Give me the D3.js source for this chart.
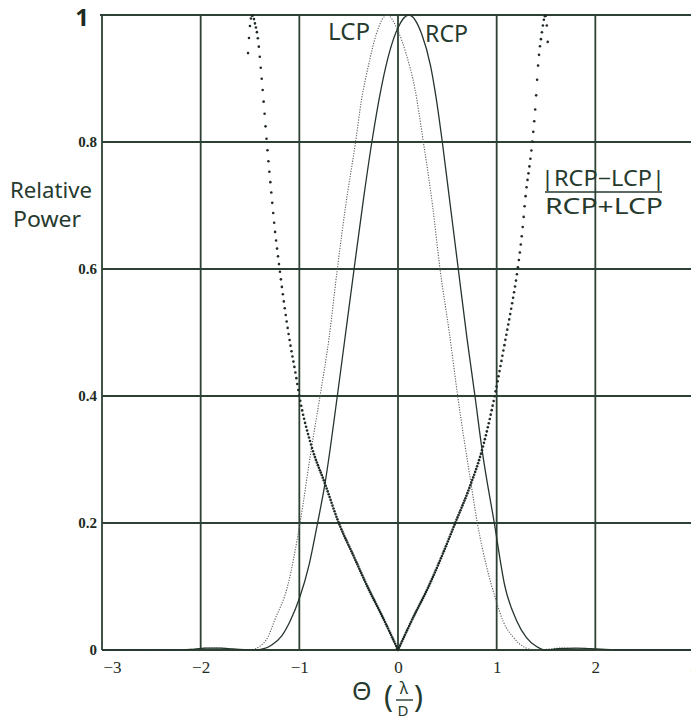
<!DOCTYPE html>
<html>
<head>
<meta charset="utf-8">
<script src="https://cdnjs.cloudflare.com/ajax/libs/d3/7.8.5/d3.min.js"></script>
<style>
body { margin: 0; background: #fff; }
svg { display: block; }
.hand { font-family: "Noto Sans", sans-serif; fill: #263a2e; }
.tick text { font-family: "Liberation Serif", serif; fill: #1e2a22; }
</style>
</head>
<body>
<svg id="chart" width="691" height="720"></svg>
<script>
var xTicks = [-3, -2, -1, 0, 1, 2, 3];
var yTicks = [0, 0.2, 0.4, 0.6, 0.8, 1];

// RCP beam (solid)
var rcpX = [-3, -2.3, -2.1, -1.95, -1.8, -1.62, -1.45, -1.36, -1.28, -1.18, -1.095, -1.0, -0.9, -0.815, -0.74, -0.615, -0.53, -0.445, -0.35, -0.265, -0.17, -0.08, 0.0, 0.11, 0.24, 0.33, 0.39, 0.449, 0.53, 0.611, 0.70, 0.78, 0.855, 0.976, 1.084, 1.2, 1.3, 1.4, 1.5, 1.62, 1.8, 1.95, 2.1, 2.3, 3];
var rcpY = [0, 0, 0.001, 0.003, 0.003, 0.001, 0, 0.002, 0.008, 0.022, 0.045, 0.081, 0.135, 0.2, 0.262, 0.4, 0.5, 0.6, 0.71, 0.8, 0.885, 0.945, 0.98, 1.0, 0.97, 0.92, 0.866, 0.8, 0.7, 0.6, 0.49, 0.4, 0.312, 0.2, 0.1, 0.047, 0.02, 0.006, 0, 0.002, 0.003, 0.002, 0.001, 0, 0];

// LCP beam (dotted)
var lcpX = [-3, -2.3, -2.1, -1.95, -1.8, -1.62, -1.5, -1.4, -1.32, -1.25, -1.12, -0.993, -0.875, -0.79, -0.70, -0.615, -0.53, -0.43, -0.37, -0.30, -0.22, -0.11, 0.0, 0.08, 0.17, 0.257, 0.35, 0.426, 0.52, 0.605, 0.74, 0.804, 0.9, 1.0, 1.066, 1.17, 1.3, 1.4, 1.5, 1.65, 1.8, 1.95, 2.1, 2.3, 3];
var lcpY = [0, 0, 0.001, 0.003, 0.003, 0.001, 0, 0.006, 0.02, 0.047, 0.1, 0.2, 0.32, 0.4, 0.49, 0.6, 0.7, 0.8, 0.866, 0.92, 0.97, 1.0, 0.975, 0.94, 0.885, 0.8, 0.7, 0.6, 0.5, 0.4, 0.262, 0.2, 0.13, 0.075, 0.045, 0.02, 0.003, 0, 0.001, 0.003, 0.002, 0.001, 0, 0, 0];

// |RCP-LCP| / (RCP+LCP), left and right of the null at 0
var ratioLeftX = [-1.52, -1.505, -1.49, -1.472, -1.455, -1.416, -1.39, -1.36, -1.33, -1.29, -1.25, -1.2, -1.145, -1.09, -1.04, -1.0, -0.875, -0.74, -0.6, -0.45, -0.31, -0.15, 0];
var ratioLeftY = [0.94, 0.975, 0.995, 1.0, 0.99, 0.958, 0.915, 0.86, 0.8, 0.73, 0.665, 0.6, 0.535, 0.48, 0.437, 0.4, 0.32, 0.262, 0.2, 0.148, 0.1, 0.05, 0];
var ratioRightX = [0, 0.15, 0.31, 0.45, 0.58, 0.72, 0.85, 0.98, 1.03, 1.09, 1.15, 1.213, 1.26, 1.3, 1.335, 1.361, 1.39, 1.422, 1.456, 1.484, 1.495, 1.505, 1.513, 1.523];
var ratioRightY = [0, 0.05, 0.1, 0.15, 0.2, 0.254, 0.314, 0.4, 0.44, 0.49, 0.54, 0.6, 0.66, 0.725, 0.765, 0.8, 0.85, 0.925, 0.97, 0.996, 1.0, 0.99, 0.97, 0.943];

var svg = d3.select("#chart");
var gridColor = "#2c4134";

var x = d3.scaleLinear().domain([-3, 3]).range([102, 694]);
var y = d3.scaleLinear().domain([0, 1]).range([650, 15]);

// grid + frame
svg.selectAll("line.vgrid").data(xTicks).enter().append("line")
	.attr("class", "vgrid")
	.attr("x1", function(d){ return x(d); }).attr("x2", function(d){ return x(d); })
	.attr("y1", y(1)).attr("y2", y(0))
	.attr("stroke", gridColor).attr("stroke-width", 1.8);
svg.selectAll("line.hgrid").data(yTicks).enter().append("line")
	.attr("class", "hgrid")
	.attr("x1", function(d){ return d == 1 ? 100 : x(-3); }).attr("x2", 691)
	.attr("y1", function(d){ return y(d); }).attr("y2", function(d){ return y(d); })
	.attr("stroke", gridColor).attr("stroke-width", function(d){ return d == 0 ? 2.2 : 1.8; });

// axes labels
var xAxis = d3.axisBottom(x).tickValues(xTicks).tickSize(0).tickPadding(11)
	.tickFormat(function(d){ return d < 0 ? "\u2212" + Math.abs(d) : d; });
var gx = svg.append("g").attr("transform", "translate(0," + y(0) + ")").call(xAxis);
gx.select(".domain").remove();
gx.selectAll("text").attr("font-size", 17)
	.attr("dx", function(d){ return d == -3 ? 10 : 0; });

var yAxis = d3.axisLeft(y).tickValues(yTicks).tickSize(0).tickPadding(5)
	.tickFormat(function(d){ return d == 0 || d == 1 ? d : d.toFixed(1); });
var gy = svg.append("g").attr("transform", "translate(" + x(-3) + ",0)").call(yAxis);
gy.select(".domain").remove();
gy.selectAll("text").attr("font-size", 15).attr("font-weight", "bold");
gy.selectAll(".tick").filter(function(d){ return d == 1; }).select("text")
	.attr("font-size", 24).attr("dx", -8).attr("dy", "0.45em")
	.style("font-family", "'Noto Sans', sans-serif");

// beams
var line = d3.line()
	.x(function(d){ return x(d[0]); })
	.y(function(d){ return y(d[1]); })
	.curve(d3.curveMonotoneX);

svg.append("path").datum(d3.zip(lcpX, lcpY))
	.attr("d", line).attr("fill", "none")
	.attr("stroke", "#5b5f5c").attr("stroke-width", 1.1)
	.attr("stroke-dasharray", "1.2,1.4");

svg.append("path").datum(d3.zip(rcpX, rcpY))
	.attr("d", line).attr("fill", "none")
	.attr("stroke", "#26352c").attr("stroke-width", 1.3);

// ratio as point markers, evenly spaced in theta
var dots = [];
[d3.zip(ratioLeftX, ratioLeftY), d3.zip(ratioRightX, ratioRightY)].forEach(function(half){
	var node = svg.append("path").datum(half)
		.attr("d", line).attr("fill", "none").attr("stroke", "none").node();
	var total = node.getTotalLength(), lastX = -Infinity;
	for (var l = 0; l <= total; l += 0.2) {
		var p = node.getPointAtLength(l);
		if (p.x - lastX >= 0.95) { dots.push(p); lastX = p.x; }
	}
});
svg.selectAll("circle.ratio").data(dots).enter().append("circle")
	.attr("class", "ratio")
	.attr("cx", function(d){ return d.x; })
	.attr("cy", function(d){ return d.y; })
	.attr("r", 1.3)
	.attr("fill", "#1f2b24");

// hand lettering
svg.append("text").attr("class", "hand").attr("x", 10).attr("y", 198)
	.attr("font-size", 22).attr("textLength", 82).attr("lengthAdjust", "spacingAndGlyphs")
	.text("Relative");
svg.append("text").attr("class", "hand").attr("x", 13).attr("y", 227)
	.attr("font-size", 22).attr("textLength", 68).attr("lengthAdjust", "spacingAndGlyphs")
	.text("Power");

svg.append("text").attr("class", "hand").attr("x", 328).attr("y", 40)
	.attr("font-size", 23).attr("textLength", 42).attr("lengthAdjust", "spacingAndGlyphs")
	.text("LCP");
svg.append("text").attr("class", "hand").attr("x", 425).attr("y", 42)
	.attr("font-size", 23).attr("textLength", 43).attr("lengthAdjust", "spacingAndGlyphs")
	.text("RCP");

svg.append("text").attr("class", "hand").attr("x", 541).attr("y", 186)
	.attr("font-size", 21).attr("textLength", 124).attr("lengthAdjust", "spacingAndGlyphs")
	.text("|RCP\u2212LCP|");
svg.append("line").attr("x1", 545).attr("x2", 662).attr("y1", 192).attr("y2", 192)
	.attr("stroke", "#263a2e").attr("stroke-width", 1.6);
svg.append("text").attr("class", "hand").attr("x", 545).attr("y", 214)
	.attr("font-size", 21).attr("textLength", 118).attr("lengthAdjust", "spacingAndGlyphs")
	.text("RCP+LCP");

// theta (lambda / D)
svg.append("text").attr("class", "hand").attr("x", 352).attr("y", 700)
	.attr("font-size", 25).text("\u0398");
svg.append("text").attr("class", "hand").attr("x", 384).attr("y", 707)
	.attr("font-size", 30).text("(");
svg.append("text").attr("class", "hand").attr("x", 404).attr("y", 694)
	.attr("font-size", 16).attr("text-anchor", "middle").text("\u03bb");
svg.append("line").attr("x1", 396).attr("x2", 413).attr("y1", 700).attr("y2", 700)
	.attr("stroke", "#263a2e").attr("stroke-width", 1.4);
svg.append("text").attr("class", "hand").attr("x", 403).attr("y", 716)
	.attr("font-size", 15).attr("text-anchor", "middle").text("D");
svg.append("text").attr("class", "hand").attr("x", 414).attr("y", 707)
	.attr("font-size", 30).text(")");
</script>
</body>
</html>
